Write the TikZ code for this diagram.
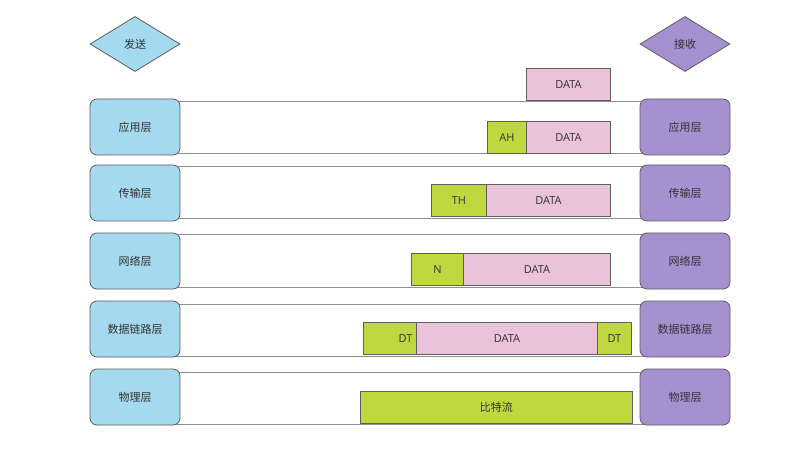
\documentclass[tikz,border=0pt]{standalone}
\usepackage{fontspec}
\setmainfont{Open Sans}
\newfontfamily\cjk{Noto Sans CJK SC}
\usetikzlibrary{shapes.geometric}
\definecolor{sendblue}{HTML}{A4D9EF}
\definecolor{recvpurple}{HTML}{A690D0}
\definecolor{datapink}{HTML}{EBC2DB}
\definecolor{hdrgreen}{HTML}{C0D840}
\definecolor{edgegray}{HTML}{5F5F5F}
\definecolor{txtgray}{HTML}{333333}
\tikzset{
  every node/.style={text=txtgray, font=\fontsize{11}{13}\selectfont},
  diam/.style={diamond, draw=edgegray, line width=0.8pt, minimum width=90, minimum height=55, inner sep=0pt, aspect=1.6, font=\cjk\fontsize{11}{13}\selectfont},
  layerbox/.style={draw=edgegray, line width=0.8pt, rounded corners=7pt, minimum width=90, minimum height=56, inner sep=0pt, font=\cjk\fontsize{11}{13}\selectfont},
  sendbox/.style={layerbox, fill=sendblue},
  recvbox/.style={layerbox, fill=recvpurple},
  stripbox/.style={draw=edgegray!70, line width=1pt, fill=white, inner sep=0pt, minimum width=550, minimum height=52},
  pkt/.style={draw=edgegray, line width=0.8pt, inner sep=0pt, minimum height=32, anchor=south west},
  datab/.style={pkt, fill=datapink},
  hdrb/.style={pkt, fill=hdrgreen},
}
\begin{document}
\begin{tikzpicture}[x=1pt,y=-1pt]
\useasboundingbox[fill=white] (0,0) rectangle (800,470);
% strips
\node[stripbox] (s1) at (410,128) {};
\node[stripbox] (s2) at (410,193) {};
\node[stripbox] (s3) at (410,261) {};
\node[stripbox] (s4) at (410,330) {};
\node[stripbox] (s5) at (410,398) {};
% diamonds
\node[diam, fill=sendblue] (send) at (135,44) {发送};
\node[diam, fill=recvpurple] (recv) at (685,44) {接收};
% left layers
\node[sendbox] (l1) at (135,127) {应用层};
\node[sendbox] (l2) at (135,193) {传输层};
\node[sendbox] (l3) at (135,261) {网络层};
\node[sendbox] (l4) at (135,329) {数据链路层};
\node[sendbox] (l5) at (135,397) {物理层};
% right layers
\node[recvbox] (r1) at (685,127) {应用层};
\node[recvbox] (r2) at (685,193) {传输层};
\node[recvbox] (r3) at (685,261) {网络层};
\node[recvbox] (r4) at (685,329) {数据链路层};
\node[recvbox] (r5) at (685,397) {物理层};
% top data
\node[datab, minimum width=84] (d0) at (526,101) {DATA};
% row 1
\node[hdrb, minimum width=39] (ah) at (487,154) {AH};
\node[datab, minimum width=84] (d1) at (526,154) {DATA};
% row 2
\node[hdrb, minimum width=55] (th) at (431,217) {TH};
\node[datab, minimum width=124] (d2) at (486,217) {DATA};
% row 3
\node[hdrb, minimum width=52] (nh) at (411,286) {N};
\node[datab, minimum width=147] (d3) at (463,286) {DATA};
% row 4
\node[hdrb, minimum width=53, text width=45, inner xsep=4pt, align=right] (dt1) at (363,355) {DT};
\node[datab, minimum width=181] (d4) at (416,355) {DATA};
\node[hdrb, minimum width=34] (dt2) at (597,355) {DT};
% row 5
\node[hdrb, minimum width=272, font=\cjk\fontsize{11}{13}\selectfont] (bits) at (360,424) {比特流};
\end{tikzpicture}
\end{document}
